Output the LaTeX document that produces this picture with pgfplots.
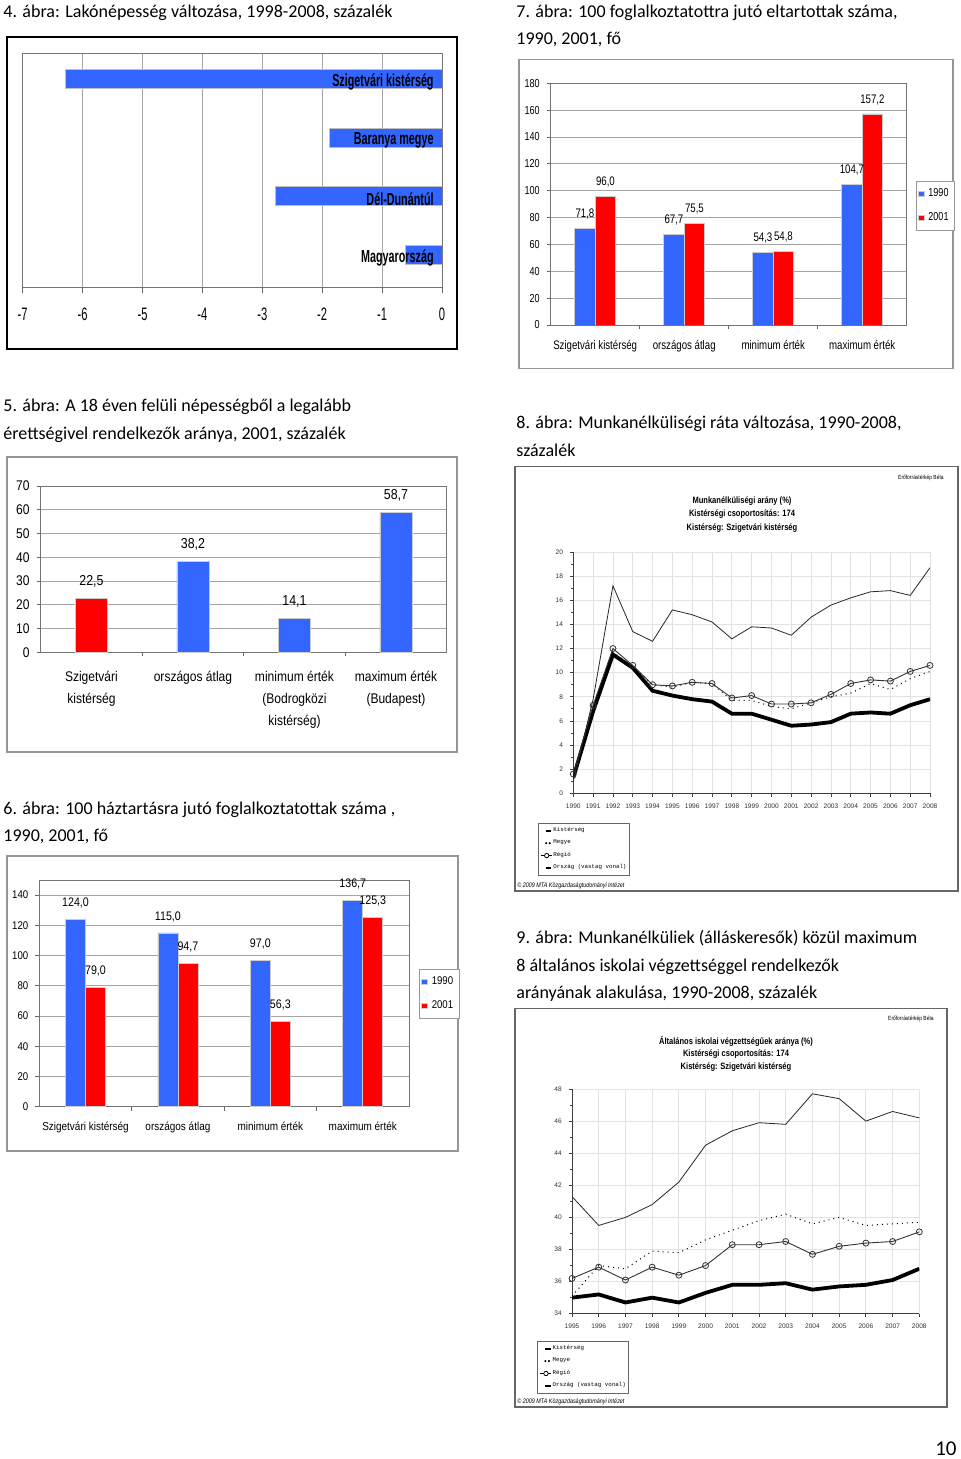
\documentclass[border=0pt]{standalone}
\usepackage{fontspec}
\setmainfont{Carlito}
\newfontfamily\narA[FakeStretch=0.62]{Liberation Sans}
\newfontfamily\narB[FakeStretch=0.78]{Liberation Sans}
\newfontfamily\narC[FakeStretch=0.86]{Liberation Sans}
\newfontfamily\narT[FakeStretch=0.82]{Liberation Sans}
\newfontfamily\smf{Liberation Sans}
\newfontfamily\monof{Liberation Mono}
\usepackage{pgfplots}
\usepackage{pgfplotstable}
\pgfplotsset{compat=1.18}
\definecolor{xblue}{RGB}{51,102,255}
\definecolor{xred}{RGB}{255,0,0}
\definecolor{xgrid}{RGB}{165,165,165}
\definecolor{lgrid}{RGB}{226,226,226}
\definecolor{fr}{RGB}{150,150,150}
\newcommand\fs[2]{\fontsize{#1}{#2}\selectfont}

\pgfplotstableread{
yr kis meg reg orsz
1990 1.0 1.4 1.6 1.3
1991 7.8 7.2 7.3 6.8
1992 17.2 11.7 12.0 11.5
1993 13.4 10.5 10.6 10.4
1994 12.6 9.0 9.0 8.5
1995 15.2 8.8 8.9 8.1
1996 14.8 9.2 9.2 7.8
1997 14.2 9.1 9.1 7.6
1998 12.8 7.7 7.9 6.6
1999 13.8 7.7 8.1 6.6
2000 13.7 7.2 7.4 6.1
2001 13.1 7.0 7.4 5.6
2002 14.6 7.5 7.5 5.7
2003 15.6 8.0 8.2 5.9
2004 16.2 8.3 9.1 6.6
2005 16.7 9.1 9.4 6.7
2006 16.8 8.6 9.3 6.6
2007 16.4 9.5 10.1 7.3
2008 18.7 10.1 10.6 7.8
}\tabMunk

\pgfplotstableread{
yr kis meg reg orsz
1995 41.3 35.1 36.2 35.0
1996 39.5 37.0 36.9 35.2
1997 40.0 36.8 36.1 34.7
1998 40.8 37.9 36.9 35.0
1999 42.2 37.8 36.4 34.7
2000 44.5 38.6 37.0 35.3
2001 45.4 39.2 38.3 35.8
2002 45.9 39.8 38.3 35.8
2003 45.8 40.2 38.5 35.9
2004 47.7 39.6 37.7 35.5
2005 47.4 40.0 38.2 35.7
2006 46.0 39.5 38.4 35.8
2007 46.6 39.6 38.5 36.1
2008 46.2 39.7 39.1 36.8
}\tabIsk

\pgfplotsset{
  xlstyle/.style={
    scale only axis, anchor=south west,
    /pgf/number format/assume math mode=true,
    axis line style={black!55},
    major grid style={xgrid, line width=0.4pt},
    tick style={black!60, line width=0.4pt},
    tick align=outside,
  },
  vlab/.style={
    nodes near coords={\pgfmathprintnumber[fixed,fixed zerofill,precision=1,use comma,assume math mode=true]{\pgfplotspointmeta}},
    point meta=y,
  },
  barleg/.style={legend image code/.code={\fill[##1] (0pt,-1.4pt) rectangle (2.8pt,1.4pt);}},
  lnstyle/.style={
    scale only axis, anchor=south west,
    /pgf/number format/assume math mode=true,
    /pgf/number format/1000 sep={},
    axis x line*=bottom, axis y line*=left,
    axis line style={black!75, line width=0.5pt},
    grid=major, major grid style={lgrid, line width=0.4pt},
    tick style={black!75, line width=0.4pt},
    tick align=outside, major tick length=1.6pt, minor tick length=1pt,
    tick label style={font=\smf\fs{3.3pt}{4pt}, text=black!80},
    legend cell align=left,
    legend style={draw=black!60, fill=white, font=\monof\fs{2.9pt}{3.4pt},
      inner xsep=1pt, inner ysep=1.6pt, row sep=1.9pt, nodes={inner sep=0.4pt},
      /tikz/every even column/.append style={column sep=3pt}},
  },
}
\newcommand\linelegend{%
\addlegendimage{legend image code/.code={\draw[black, line width=0.9pt] (0.8pt,0pt)--(3.6pt,0pt);}}
\addlegendentry{Kistérség}
\addlegendimage{legend image code/.code={\fill[black] (1pt,0pt) circle (0.3pt); \fill[black] (2.8pt,0pt) circle (0.3pt);}}
\addlegendentry{Megye}
\addlegendimage{legend image code/.code={\draw[black, line width=0.5pt] (-1.6pt,0pt)--(4pt,0pt); \draw[black, fill=white, line width=0.4pt] (1.3pt,0pt) circle (1.1pt);}}
\addlegendentry{Régió}
\addlegendimage{legend image code/.code={\draw[black, line width=0.9pt] (0.8pt,0pt)--(3.6pt,0pt);}}
\addlegendentry{Ország (vastag vonal)}}

\begin{document}
\begin{tikzpicture}
\begin{scope}[x=0.5pt,y=-0.5pt]
\path[use as bounding box] (0,0) rectangle (960,1459);
\fill[white] (0,0) rectangle (960,1459);
% captions
\begin{scope}[every node/.style={anchor=base west, inner sep=0pt, font=\fs{9pt}{11pt}}]
\node at (3,18) {4. ábra: Lakónépesség változása, 1998-2008, százalék};
\node at (516,18) {7. ábra: 100 foglalkoztatottra jutó eltartottak száma,};
\node at (516,45) {1990, 2001, fő};
\node at (3,412) {5. ábra: A 18 éven felüli népességből a legalább};
\node at (3,440) {érettségivel rendelkezők aránya, 2001, százalék};
\node at (516,429) {8. ábra: Munkanélküliségi ráta változása, 1990-2008,};
\node at (516,457) {százalék};
\node at (3,814) {6. ábra: 100 háztartásra jutó foglalkoztatottak száma ,};
\node at (3,841) {1990, 2001, fő};
\node at (516,943) {9. ábra: Munkanélküliek (álláskeresők) közül maximum};
\node at (516,971) {8 általános iskolai végzettséggel rendelkezők};
\node at (516,998) {arányának alakulása, 1990-2008, százalék};
\end{scope}
\node[anchor=base east, inner sep=0pt, font=\fs{10.5pt}{12pt}] at (957,1455) {10};
% frames
\draw[black, line width=1pt] (7,37) rectangle (457,349);
\draw[fr, line width=0.6pt] (519,59.5) rectangle (953,368.5);
\draw[fr, line width=0.6pt] (7,457) rectangle (457,752);
\draw[fr, line width=0.6pt] (7,856) rectangle (458,1151);
\draw[black!60, line width=0.6pt] (515,466.5) rectangle (958,891);
\draw[black!60, line width=0.6pt] (515,1008.5) rectangle (947,1407);
% inner titles of charts 8 and 9
\begin{scope}[every node/.style={inner sep=0pt, font=\narT\bfseries\fs{4.6pt}{5pt}}]
\node at (742,501) {Munkanélküliségi arány (\%)};
\node at (742,514.5) {Kistérségi csoportosítás: 174};
\node at (742,528) {Kistérség: Szigetvári kistérség};
\node at (736,1041.5) {Általános iskolai végzettségűek aránya (\%)};
\node at (736,1054.5) {Kistérségi csoportosítás: 174};
\node at (736,1067) {Kistérség: Szigetvári kistérség};
\end{scope}
\begin{scope}[every node/.style={inner sep=0pt, font=\narT\fs{3pt}{3.5pt}, anchor=east}]
\node at (944,478) {Erőforrástérkép Béta};
\node at (934,1018.5) {Erőforrástérkép Béta};
\end{scope}
\begin{scope}[every node/.style={inner sep=0pt, font=\narT\itshape\fs{3.3pt}{4pt}, anchor=west}]
\node at (517,886) {© 2009 MTA Közgazdaságtudományi Intézet};
\node at (517,1401.5) {© 2009 MTA Közgazdaságtudományi Intézet};
\end{scope}
\end{scope}

% ---------- 4. abra ----------
\begin{axis}[xlstyle, at={(22.7*0.5pt,-287*0.5pt)}, width=209.65pt, height=117pt,
  xmin=-7, xmax=0, ymin=-0.5, ymax=3.5, y dir=reverse,
  xtick={-7,-6,...,0}, ytick=\empty, xmajorgrids, xtick pos=bottom,
  major tick length=3pt,
  xticklabel style={font=\narA\fs{9pt}{10pt}, yshift=-4pt}]
\addplot[xbar, bar width=9.5pt, bar shift=1.5pt, fill=xblue, draw=black!25] coordinates {(-6.29,0) (-1.88,1) (-2.78,2) (-0.61,3)};
\addplot[only marks, mark=*, mark options={draw opacity=0, fill opacity=0}, point meta=explicit symbolic, nodes near coords,
  every node near coord/.append style={anchor=east, font=\narA\bfseries\fs{8.7pt}{9pt}, xshift=-3pt, inner sep=1pt, text opacity=1}]
  coordinates {(0,0) [Szigetvári kistérség] (0,1) [Baranya megye] (0,2) [Dél-Dunántúl] (0,3) [Magyarország]};
\end{axis}

% ---------- 7. abra ----------
\begin{axis}[xlstyle, at={(550.7*0.5pt,-325*0.5pt)}, width=178pt, height=120.85pt,
  ybar=0pt, bar width=10.25pt, xmin=-0.5, xmax=3.5, ymin=0, ymax=180,
  xtick={0,1,2,3}, xticklabels={Szigetvári kistérség, országos átlag, minimum érték, maximum érték},
  major x tick style={draw=none}, minor xtick={0.5,1.5,2.5}, minor tick length=2pt,
  ytick={0,20,...,180}, ymajorgrids, xtick pos=bottom, ytick pos=left, major tick length=2pt,
  yticklabel style={font=\narB\fs{5.8pt}{6pt}},
  xticklabel style={font=\narB\fs{6.2pt}{7pt}, yshift=-2pt},
  vlab, every node near coord/.append style={font=\narB\fs{6.2pt}{7pt}, yshift=1pt},
  legend style={at={(1.025,0.596)}, anchor=north west, draw=black!40, font=\narB\fs{5.8pt}{6pt},
    inner xsep=1pt, inner ysep=1.5pt, row sep=2.5pt, cells={anchor=west}}]
\addplot[fill=xblue, draw=black!20, barleg] coordinates {(0,71.8) (1,67.7) (2,54.3) (3,104.7)};
\addplot[fill=xred, draw=black!20, barleg] coordinates {(0,96.0) (1,75.5) (2,54.8) (3,157.2)};
\legend{1990,2001}
\end{axis}

% ---------- 5. abra ----------
\begin{axis}[xlstyle, at={(40.7*0.5pt,-652.3*0.5pt)}, width=203pt, height=83.15pt,
  ybar=0pt, bar width=16pt, xmin=-0.5, xmax=3.5, ymin=0, ymax=70,
  xtick={0,1,2,3}, xticklabels={{Szigetvári\\kistérség}, országos átlag, {minimum érték\\(Bodrogközi\\kistérség)}, {maximum érték\\(Budapest)}},
  major x tick style={draw=none}, minor xtick={0.5,1.5,2.5}, minor tick length=2pt,
  ytick={0,10,...,70}, ymajorgrids, xtick pos=bottom, ytick pos=left, major tick length=2pt,
  yticklabel style={font=\narC\fs{7pt}{8pt}},
  xticklabel style={font=\narC\fs{7pt}{11pt}, align=center, yshift=-4pt},
  vlab, every node near coord/.append style={font=\narC\fs{7.2pt}{8pt}, yshift=2pt}]
\addplot[fill=xred, draw=black!20, bar shift=0pt] coordinates {(0,22.5)};
\addplot[fill=xblue, draw=black!20, bar shift=0pt] coordinates {(1,38.2) (2,14.1) (3,58.7)};
\end{axis}

% ---------- 6. abra ----------
\begin{axis}[xlstyle, at={(39.3*0.5pt,-1106.7*0.5pt)}, width=184.85pt, height=113.35pt,
  ybar=0pt, bar width=10pt, xmin=-0.5, xmax=3.5, ymin=0, ymax=150,
  xtick={0,1,2,3}, xticklabels={Szigetvári kistérség, országos átlag, minimum érték, maximum érték},
  major x tick style={draw=none}, minor xtick={0.5,1.5,2.5}, minor tick length=2pt,
  ytick={0,20,...,140}, ymajorgrids, xtick pos=bottom, ytick pos=left, major tick length=2pt,
  yticklabel style={font=\narC\fs{5.6pt}{6pt}},
  xticklabel style={font=\narC\fs{5.8pt}{7pt}, yshift=-2pt},
  vlab, every node near coord/.append style={font=\narC\fs{6.2pt}{7pt}, yshift=2pt},
  legend style={at={(1.027,0.607)}, anchor=north west, draw=black!40, font=\narC\fs{5.6pt}{6pt},
    inner xsep=1pt, inner ysep=1.5pt, row sep=2.5pt, cells={anchor=west}}]
\addplot[fill=xblue, draw=black!20, barleg] coordinates {(0,124.0) (1,115.0) (2,97.0) (3,136.7)};
\addplot[fill=xred, draw=black!20, barleg] coordinates {(0,79.0) (1,94.7) (2,56.3) (3,125.3)};
\legend{1990,2001}
\end{axis}

% ---------- 8. abra ----------
\begin{axis}[lnstyle, at={(573.3*0.5pt,-793.3*0.5pt)}, width=178.35pt, height=120.65pt,
  xmin=1990, xmax=2008, ymin=0, ymax=20, xtick={1990,1991,...,2008}, ytick={0,2,...,20},
  minor y tick num=1,
  legend style={at={(-0.099,-0.122)}, anchor=north west}]
\addplot[black, line width=1.9pt, forget plot] table[x=yr, y=orsz] {\tabMunk};
\addplot[black, dotted, line width=0.5pt, forget plot] table[x=yr, y=meg] {\tabMunk};
\addplot[black!80, line width=0.45pt, mark=o, mark size=1.5pt, mark options={solid, line width=0.4pt}, forget plot] table[x=yr, y=reg] {\tabMunk};
\addplot[black!85, line width=0.4pt, forget plot] table[x=yr, y=kis] {\tabMunk};
\linelegend
\end{axis}

% ---------- 9. abra ----------
\begin{axis}[lnstyle, at={(572*0.5pt,-1313.7*0.5pt)}, width=173.65pt, height=112.35pt,
  xmin=1995, xmax=2008, ymin=34, ymax=48, xtick={1995,1996,...,2008}, ytick={34,36,...,48},
  minor y tick num=1,
  legend style={at={(-0.100,-0.120)}, anchor=north west}]
\addplot[black, line width=1.9pt, forget plot] table[x=yr, y=orsz] {\tabIsk};
\addplot[black, dotted, line width=0.5pt, forget plot] table[x=yr, y=meg] {\tabIsk};
\addplot[black!80, line width=0.45pt, mark=o, mark size=1.5pt, mark options={solid, line width=0.4pt}, forget plot] table[x=yr, y=reg] {\tabIsk};
\addplot[black!85, line width=0.4pt, forget plot] table[x=yr, y=kis] {\tabIsk};
\linelegend
\end{axis}
\end{tikzpicture}
\end{document}
